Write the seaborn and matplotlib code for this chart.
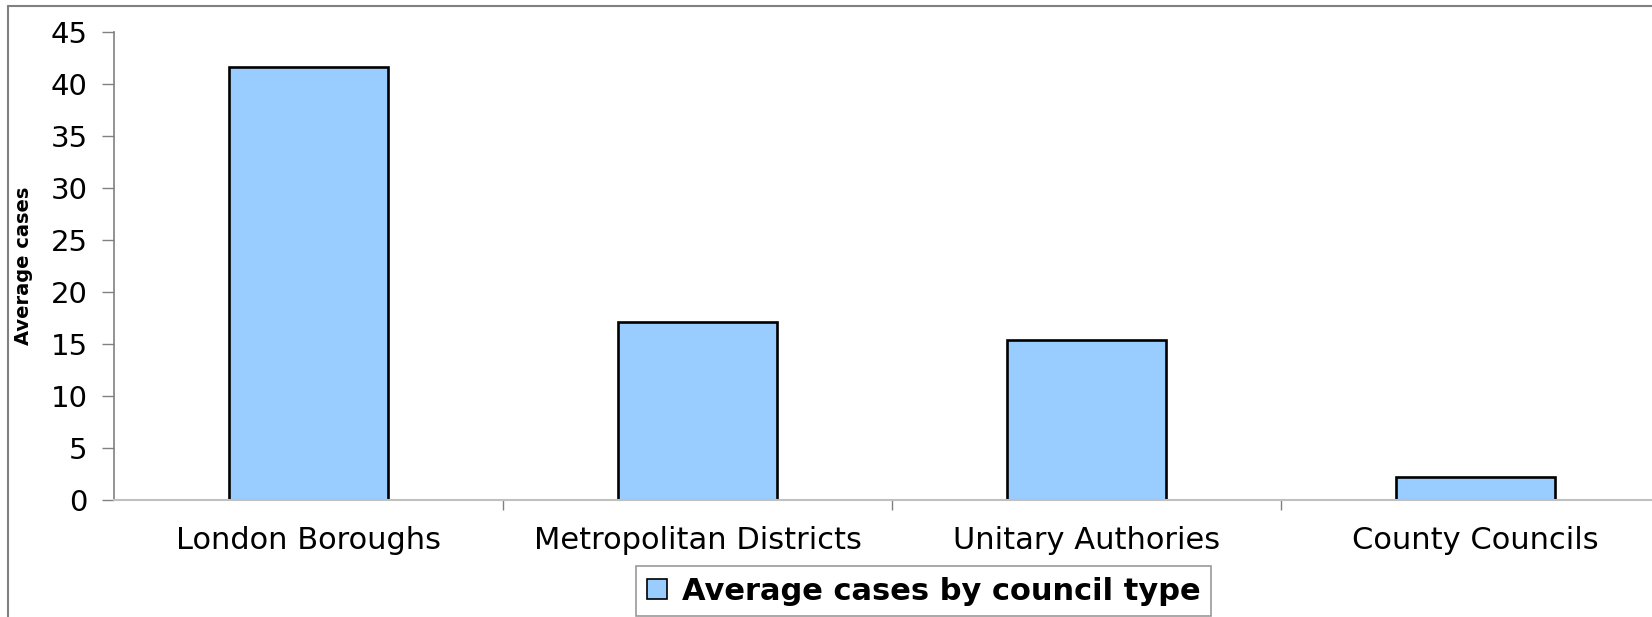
import matplotlib
matplotlib.use("Agg")
import matplotlib.pyplot as plt
import seaborn as sns
import pandas as pd
from matplotlib.lines import Line2D
from matplotlib.patches import Patch

categories = ["London Boroughs", "Metropolitan Districts", "Unitary Authories", "County Councils"]
values = [41.6, 17.1, 15.4, 2.2]
series_name = "Average cases by council type"
y_ticks = [0, 5, 10, 15, 20, 25, 30, 35, 40, 45]

df = pd.DataFrame({"category": categories, "value": values})

sns.set_theme(style="white")
plt.rcParams["font.family"] = ["DejaVu Sans"]
plt.rcParams["text.color"] = "black"
plt.rcParams["axes.labelcolor"] = "black"

W, H = 1652, 617
fig = plt.figure(figsize=(W / 100, H / 100), dpi=100)
fig.patch.set_facecolor("white")
ax = fig.add_axes([114 / W, 1 - 500 / H, (W - 114) / W, (500 - 32) / H])

sns.barplot(data=df, x="category", y="value", ax=ax, color="#99CCFF",
            edgecolor="black", linewidth=1.9, width=0.41, saturation=1)

ax.set_ylim(0, 45)
ax.set_xlim(-0.5, -0.5 + (W - 114) / 389.0)
ax.set_yticks(y_ticks)
ax.set_yticklabels([str(t) for t in y_ticks], fontsize=21)
ax.set_xticks(range(len(categories)))
ax.set_xticklabels(categories, fontsize=22)
ax.set_xticks([0.5, 1.5, 2.5], minor=True)

ax.tick_params(axis="y", which="major", direction="out", length=9, width=1,
               color="#808080", pad=10, left=True, labelcolor="black")
ax.tick_params(axis="x", which="major", length=0, pad=19, labelcolor="black", bottom=True)
ax.tick_params(axis="x", which="minor", direction="out", length=7, width=1,
               color="#808080", bottom=True)

for s in ["top", "right"]:
    ax.spines[s].set_visible(False)
ax.spines["left"].set_color("#808080")
ax.spines["left"].set_linewidth(1.2)
ax.spines["bottom"].set_color("#c0c0c0")
ax.spines["bottom"].set_linewidth(1.5)
ax.grid(False)

ax.set_xlabel("")
ax.set_ylabel("Average cases", fontsize=14, fontweight="bold", color="black")
ax.yaxis.set_label_coords((33 - 114) / (W - 114), 0.5)

# figure border (left and top visible)
fig.add_artist(Line2D([8 / W, 8 / W], [0, 1 - 6 / H], transform=fig.transFigure,
                      color="#808080", linewidth=1.5))
fig.add_artist(Line2D([8 / W, 1], [1 - 6 / H, 1 - 6 / H], transform=fig.transFigure,
                      color="#808080", linewidth=1.5))

handle = Patch(facecolor="#99CCFF", edgecolor="black", linewidth=1.2)
leg = fig.legend([handle], [series_name], loc="upper left",
                 bbox_to_anchor=(636 / W, 1 - 566 / H), frameon=True,
                 prop={"size": 22, "weight": "bold"}, handlelength=0.65, handleheight=0.65,
                 handletextpad=0.5, borderpad=0.35, fancybox=False, borderaxespad=0,
                 labelcolor="black")
leg.get_frame().set_edgecolor("#808080")
leg.get_frame().set_linewidth(1.2)

fig.savefig("out.png", dpi=100)
